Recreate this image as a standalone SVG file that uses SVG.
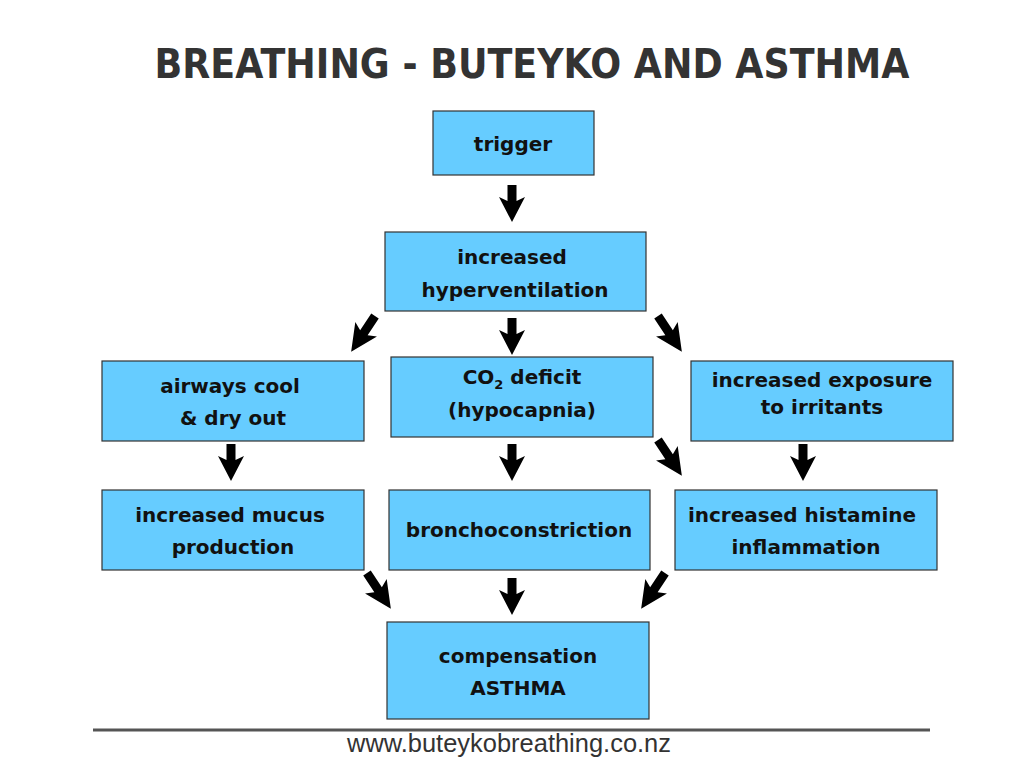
<svg xmlns="http://www.w3.org/2000/svg" xmlns:xlink="http://www.w3.org/1999/xlink" width="1024" height="768" viewBox="0 0 1024 768">
<style>
.box{fill:#66CCFF;stroke:#333333;stroke-width:1.2}
.t{font-family:"DejaVu Sans",Verdana,sans-serif;font-weight:bold;font-size:20px;fill:#111111;text-anchor:middle}
.title{font-family:"DejaVu Sans",Tahoma,sans-serif;font-weight:bold;font-size:40px;fill:#333333;text-anchor:middle}
.foot{font-family:"Liberation Sans",Arial,sans-serif;font-size:25.5px;fill:#333333;text-anchor:middle}
.arr{fill:#000000}
</style>
<defs>
<path id="ad" class="arr" d="M-4.5,0 H4.5 V16 L13,12 L0,37 L-13,12 L-4.5,16 Z"/>
<path id="ag" class="arr" d="M-4.5,0 H4.5 V20 L13,16 L0,43 L-13,16 L-4.5,20 Z"/>
</defs>
<rect width="1024" height="768" fill="#ffffff"/>
<text class="title" x="532" y="78" textLength="755" lengthAdjust="spacingAndGlyphs">BREATHING - BUTEYKO AND ASTHMA</text>
<g id="n-trigger"><rect class="box" x="433" y="111" width="161" height="64"/><text class="t" x="513" y="151">trigger</text></g>
<g id="n-hyper"><rect class="box" x="385" y="232" width="261" height="79"/><text class="t" x="512" y="264">increased</text><text class="t" x="515" y="297">hyperventilation</text></g>
<g id="n-airways"><rect class="box" x="102" y="361" width="262" height="80"/><text class="t" x="230" y="393">airways cool</text><text class="t" x="233" y="425">&amp; dry out</text></g>
<g id="n-co2"><rect class="box" x="391" y="357" width="262" height="80"/><text class="t" x="522" y="384">CO<tspan font-size="13" dy="5">2</tspan><tspan dy="-5"> deficit</tspan></text><text class="t" x="522" y="417">(hypocapnia)</text></g>
<g id="n-exposure"><rect class="box" x="691" y="361" width="262" height="80"/><text class="t" x="822" y="387">increased exposure</text><text class="t" x="822" y="414">to irritants</text></g>
<g id="n-mucus"><rect class="box" x="102" y="490" width="262" height="80"/><text class="t" x="230" y="522">increased mucus</text><text class="t" x="233" y="554">production</text></g>
<g id="n-broncho"><rect class="box" x="389" y="490" width="261" height="80"/><text class="t" x="519" y="537">bronchoconstriction</text></g>
<g id="n-histamine"><rect class="box" x="675" y="490" width="262" height="80"/><text class="t" x="802" y="522">increased histamine</text><text class="t" x="806" y="554">inflammation</text></g>
<g id="n-comp"><rect class="box" x="387" y="622" width="262" height="97"/><text class="t" x="518" y="663">compensation</text><text class="t" x="518" y="695">ASTHMA</text></g>
<g id="connectors">
<use xlink:href="#ad" transform="translate(512,185)"/>
<use xlink:href="#ag" transform="translate(375,316) rotate(33.7)"/>
<use xlink:href="#ad" transform="translate(512,318)"/>
<use xlink:href="#ag" transform="translate(658,316) rotate(-33.7)"/>
<use xlink:href="#ad" transform="translate(231,444)"/>
<use xlink:href="#ad" transform="translate(512,444)"/>
<use xlink:href="#ag" transform="translate(658,440) rotate(-33.7)"/>
<use xlink:href="#ad" transform="translate(803,444)"/>
<use xlink:href="#ag" transform="translate(367,573) rotate(-33.7)"/>
<use xlink:href="#ad" transform="translate(512,578)"/>
<use xlink:href="#ag" transform="translate(665,573) rotate(33.7)"/>
</g>
<line x1="93" y1="730" x2="930" y2="730" stroke="#555555" stroke-width="3"/>
<text class="foot" x="509" y="752" textLength="324" lengthAdjust="spacingAndGlyphs">www.buteykobreathing.co.nz</text>
</svg>
